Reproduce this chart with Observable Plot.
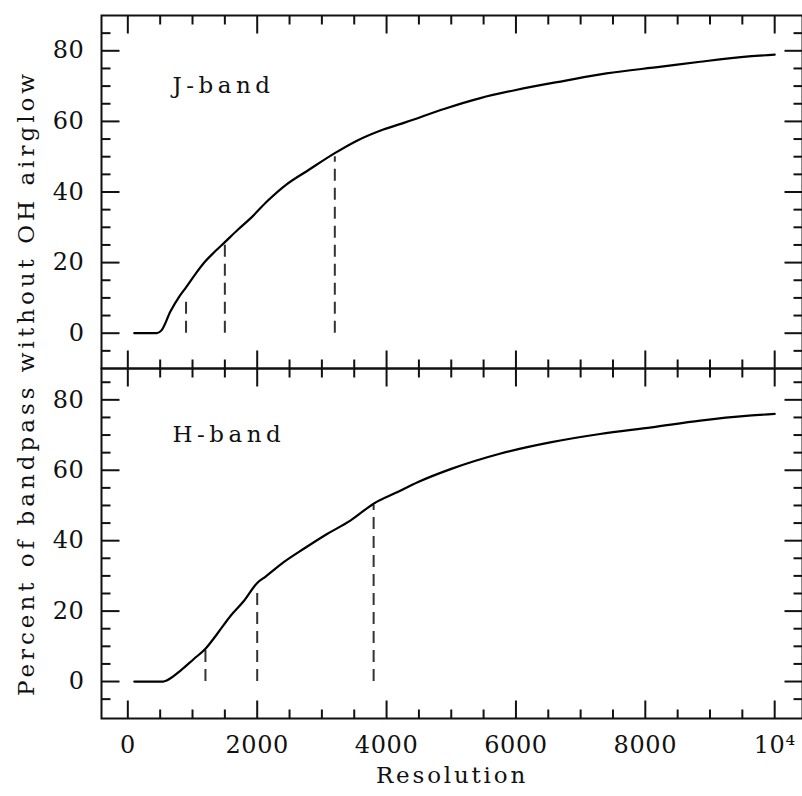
<!DOCTYPE html>
<html>
<head>
<meta charset="utf-8">
<script src="https://cdn.jsdelivr.net/npm/d3@7"></script>
<script src="https://cdn.jsdelivr.net/npm/@observablehq/plot@0.6"></script>
<style>
  body { margin: 0; background: #fff; }
  #wrap { position: relative; width: 802px; height: 796px; font-family: "DejaVu Serif", serif; color: #111; }
  #wrap svg { position: absolute; left: 0; }
  #ylabel { position: absolute; left: 26px; top: 383px; transform: translate(-50%, -50%) rotate(-90deg);
            white-space: nowrap; font-size: 23px; letter-spacing: 4px; line-height: 1; color: #111; }
</style>
</head>
<body>
<div id="wrap"><div id="ylabel"></div></div>
<script>
// ---- data ----
const jRes = [100, 450, 520, 660, 800, 900, 1050, 1175, 1350, 1500, 1700, 1900, 2150, 2450, 2800, 3200, 3550, 3950, 4300, 4900, 5450, 6000, 6750, 7400, 8250, 8850, 9600, 10000];
const jPct = [0, 0, 0.8, 6.2, 10.5, 13.0, 16.9, 19.9, 23.2, 25.8, 29.3, 32.6, 37.3, 42.1, 46.3, 51.0, 54.6, 57.7, 59.8, 63.6, 66.6, 68.9, 71.5, 73.6, 75.5, 76.9, 78.4, 78.9];
const hRes = [100, 550, 600, 815, 1020, 1200, 1380, 1590, 1800, 2000, 2130, 2410, 2720, 3080, 3440, 3800, 4170, 4480, 5000, 5750, 6550, 7300, 8100, 8850, 9600, 10000];
const hPct = [0, 0, 0.3, 3.1, 6.4, 9.3, 13.5, 18.7, 23.0, 28.0, 29.8, 33.9, 37.7, 41.9, 45.7, 50.5, 53.8, 56.6, 60.4, 64.7, 68.0, 70.3, 72.2, 74.1, 75.5, 76.0];
const jMarkRes = [900, 1500, 3200];
const hMarkRes = [1200, 2000, 3800];
const markLevels = [10, 25, 50];
const bandLabels = ["J-band", "H-band"];
const xMajor = [0, 2000, 4000, 6000, 8000, 10000];
const xTickLabels = ["0", "2000", "4000", "6000", "8000", "10\u2074"];
const xMinor = [500, 1000, 1500, 2500, 3000, 3500, 4500, 5000, 5500, 6500, 7000, 7500, 8500, 9000, 9500];
const yMajor = [0, 20, 40, 60, 80];
const yMinor = [-5, 5, 10, 15, 25, 30, 35, 45, 50, 55, 65, 70, 75, 85];
const xLabel = "Resolution";
const yLabel = "Percent of bandpass without OH airglow";

const W = 802, ML = 101, MR = 0;
const FW = W - ML - MR;
const XDOM = [-407, 10430];
const INK = "#111";
const MAJ = 18, MIN = 9; // tick lengths in px

function panel({res, pct, markRes, label, yDomain, height, marginTop, marginBottom, bottomAxis}) {
  const FH = height - marginTop - marginBottom;
  const ky = (yDomain[1] - yDomain[0]) / FH;
  const kx = (XDOM[1] - XDOM[0]) / FW;
  const [ylo, yhi] = yDomain, [xlo, xhi] = XDOM;
  const line = res.map((r, i) => ({r, p: pct[i]}));
  const dashes = markRes.map((m, i) => ({m, lvl: markLevels[i]}));
  const xt = [...xMajor.map(v => ({v, len: MAJ})), ...xMinor.map(v => ({v, len: MIN}))];
  const yt = [...yMajor.map(v => ({v, len: MAJ})), ...yMinor.map(v => ({v, len: MIN}))];
  // each inward tick as a two-point segment, grouped by id
  const ticks = [
    ...xt.flatMap(t => [{id: "b" + t.v, x: t.v, y: ylo}, {id: "b" + t.v, x: t.v, y: ylo + t.len * ky}]),
    ...xt.flatMap(t => [{id: "t" + t.v, x: t.v, y: yhi}, {id: "t" + t.v, x: t.v, y: yhi - t.len * ky}]),
    ...yt.flatMap(t => [{id: "l" + t.v, x: xlo, y: t.v}, {id: "l" + t.v, x: xlo + t.len * kx, y: t.v}]),
    ...yt.flatMap(t => [{id: "r" + t.v, x: xhi, y: t.v}, {id: "r" + t.v, x: xhi - t.len * kx, y: t.v}])
  ];
  const marks = [
    Plot.ruleX(dashes, {x: "m", y1: 0, y2: "lvl", stroke: "#333", strokeWidth: 2, strokeDasharray: "12,7"}),
    Plot.line(line, {x: "r", y: "p", stroke: "#000", strokeWidth: 2.2, curve: "monotone-x"}),
    Plot.line(ticks, {x: "x", y: "y", z: "id", stroke: INK, strokeWidth: 2, strokeLinecap: "butt"}),
    Plot.frame({stroke: INK, strokeWidth: 2}),
    Plot.text([label], {x: 690, y: 70, text: d => d, textAnchor: "start", lineAnchor: "middle", fontSize: 23, fill: INK}),
    Plot.axisY(yMajor, {tickSize: 0, tickPadding: 17, fontSize: 24, fill: INK, label: null})
  ];
  if (bottomAxis) {
    marks.push(Plot.axisX(xMajor, {anchor: "bottom", tickSize: 0, tickPadding: 17, fontSize: 24, fill: INK, label: null,
      tickFormat: d => xTickLabels[xMajor.indexOf(d)]}));
    marks.push(Plot.text([xLabel], {frameAnchor: "bottom", dy: 57, lineAnchor: "middle", text: d => d, fontSize: 23, fill: INK}));
  }
  const svg = Plot.plot({
    width: W, height, marginLeft: ML, marginRight: MR, marginTop, marginBottom,
    x: {domain: XDOM, axis: null},
    y: {domain: yDomain, axis: null},
    style: {fontFamily: "DejaVu Serif", background: "transparent", overflow: "visible", letterSpacing: "0.6px", color: INK},
    marks
  });
  d3.select(svg).selectAll("text").filter(function () { return this.textContent === label; }).style("letter-spacing", "4.5px");
  d3.select(svg).selectAll("text").filter(function () { return this.textContent === xLabel; }).style("letter-spacing", "2.8px");
  return svg;
}

const wrap = document.getElementById("wrap");
const topPanel = panel({res: jRes, pct: jPct, markRes: jMarkRes, label: bandLabels[0], yDomain: [-10, 90],
  height: 368, marginTop: 15, marginBottom: 0, bottomAxis: false});
topPanel.style.top = "0px";
const botPanel = panel({res: hRes, pct: hPct, markRes: hMarkRes, label: bandLabels[1], yDomain: [-10.5, 88.9],
  height: 428, marginTop: 0, marginBottom: 78, bottomAxis: true});
botPanel.style.top = "368px";
wrap.appendChild(topPanel);
wrap.appendChild(botPanel);
document.getElementById("ylabel").textContent = yLabel;
</script>
</body>
</html>
